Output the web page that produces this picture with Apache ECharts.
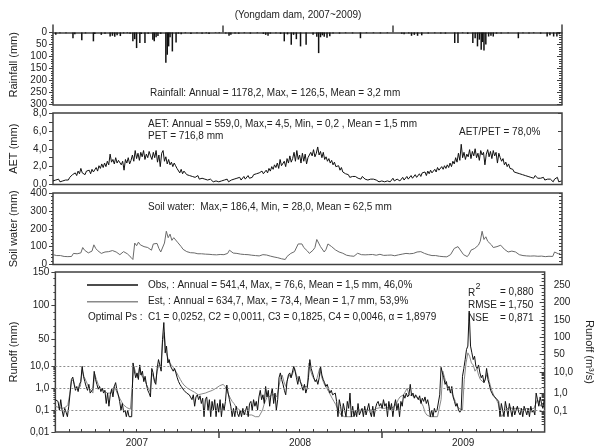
<!DOCTYPE html>
<html><head><meta charset="utf-8">
<script src="https://cdn.jsdelivr.net/npm/echarts@6/dist/echarts.min.js"></script>
<style>html,body{margin:0;padding:0;background:#fff}#c{width:603px;height:448px}</style>
</head><body><div id="c"></div>
<script>
// ---------------- data ----------------
const yearLabels = ['2007', '2008', '2009'];
// daily rainfall events (day index from 2007-01-01, mm)
const rainDay = [6,15,28,43,47,62,70,87,90,104,112,123,128,133,138,145,152,160,166,172,176,180,187,190,198,205,215,218,222,226,232,243,246,249,252,257,265,270,276,285,297,310,321,330,336,350,358,
 372,379,383,392,400,412,425,440,453,458,463,468,480,490,498,505,513,518,524,533,545,560,568,572,576,580,584,590,596,603,617,630,645,662,675,690,705,720,
 751,756,766,772,778,785,794,808,822,835,845,865,872,882,893,904,909,914,918,922,925,928,932,938,943,948,955,965,980,1002,1012,1025,1035,1050,1064,1070,1078,1085,1090];
const rainMm = [10,3,3,24,8,33,4,37,6,10,5,17,14,18,12,15,4,3,5,37,28,65,44,6,44,5,30,37,20,15,6,126.5,93,58,20,79,42,5,8,3,6,3,5,3,6,2,3,
 4,14,10,4,5,3,5,3,6,10,14,5,3,6,37,8,51,10,28,58,51,10,18,86,20,12,18,22,16,4,5,3,4,24,3,3,4,3,
 5,8,4,14,10,14,12,4,3,4,5,44,44,3,6,44,24,58,30,72,40,75,50,17,14,17,5,4,3,24,3,4,3,5,17,12,17,17,8];
// AET (mm/day), one value every 3 days
const aetStep = 3;
const aetMm = [
 0.4,0.3,0.5,0.4,0.6,0.3,0.5,0.4,0.6,0.5, 0.7,0.5,0.8,0.6,1.1,0.9,1.3,1.0,1.5,1.2,
 1.8,1.3,1.4,1.1,1.5,1.3,1.6,1.2,1.7,1.4, 1.6,1.9,1.5,2.1,1.8,2.3,1.9,2.4,2.0,2.6,
 2.2,3.4,2.5,2.8,2.3,3.0,2.4,2.7,2.9,2.2, 2.6,1.6,2.8,2.4,3.0,2.3,2.7,3.3,2.6,3.8,
 2.9,3.5,2.7,3.6,3.1,3.8,2.8,3.4,3.0,3.7, 3.2,2.8,3.6,3.0,3.8,2.5,3.3,2.0,3.5,3.8,
 2.6,3.1,2.3,2.8,2.2,2.5,2.0,2.4,2.1,1.8, 1.6,1.3,1.7,1.2,1.5,1.4,1.1,1.3,1.0,1.2,
 0.9,1.1,0.8,0.7,1.0,0.6,0.8,0.7,0.5,0.6, 0.4,0.5,0.3,0.6,0.4,0.3,0.5,0.4,0.6,0.3,
 0.5,0.4,0.3,0.5,0.4,0.6,0.3,0.4,0.5,0.4, 0.6,0.5,0.7,0.6,0.8,0.5,0.7,0.9,0.6,0.8,
 1.0,0.7,0.9,0.8,1.1,0.9,1.2,1.0,1.3,1.1, 1.5,1.2,1.4,1.6,1.3,1.8,1.5,2.0,1.7,2.2,
 1.9,2.4,1.8,2.8,2.1,2.3,2.6,2.0,2.9,2.4, 3.2,2.5,2.9,3.6,2.6,3.8,2.8,3.3,2.4,3.5,
 2.6,3.4,2.3,3.0,2.8,3.6,3.2,3.9,3.1,3.5, 4.2,3.3,3.7,3.0,3.6,2.8,3.1,2.6,2.9,2.4,
 2.7,2.2,2.5,2.0,1.8,2.1,1.6,1.9,1.4,1.5, 1.2,1.0,1.1,0.8,1.0,0.9,0.7,0.9,0.8,0.7,
 0.8,0.6,0.9,0.7,0.6,0.8,0.5,0.7,0.6,0.5, 0.6,0.4,0.5,0.7,0.3,0.5,0.4,0.6,0.3,0.5,
 0.4,0.6,0.3,0.5,0.7,0.4,0.3,0.6,0.5,0.4, 0.6,0.8,0.5,0.7,0.9,0.6,0.8,1.0,0.7,0.9,
 1.1,0.8,1.0,1.2,0.9,1.3,1.1,1.4,1.0,1.5, 1.2,1.6,1.3,1.5,1.7,1.4,1.9,1.6,1.8,2.0,
 1.7,2.1,1.8,2.2,1.9,2.4,2.0,2.6,2.3,3.0, 2.5,3.5,2.7,4.5,3.0,3.6,2.8,3.4,3.1,3.9,
 2.9,3.7,3.2,4.0,3.0,3.5,2.7,3.8,3.3,3.6, 2.2,3.4,3.9,3.1,3.7,2.9,3.8,3.2,3.6,2.4,
 3.5,3.0,2.6,2.9,2.2,2.5,2.0,2.3,1.8,1.6, 1.7,1.4,1.6,1.3,1.5,1.2,1.4,1.1,1.3,1.0,
 1.1,0.9,1.0,0.8,0.9,0.7,1.0,0.8,0.7,0.9, 0.7,0.6,0.8,0.5,0.7,0.6,0.4,0.6,0.5,0.3,
 0.6,0.4,0.8,0.3,0.5,0.4];
// soil water (mm), one value every 4 days
const soilStep = 4;
const soilMm = [
 55,52,50,48,50,47,45,48,44,46, 45,62,72,60,58,65,95,80,70,65,
 60,75,110,90,78,68,62,60,70,75, 72,80,78,82,70,62,55,58,72,66,
 60,55,40,28,120,105,125,110,115,100, 108,95,85,80,115,110,118,90,70,80,
 120,186,150,170,135,150,160,125,115,100, 85,78,72,70,66,64,65,62,60,62,
 60,62,58,60,57,58,55,56,54,55, 56,54,55,58,62,80,70,64,60,62,
 60,58,59,56,57,55,54,52,53,50, 51,48,50,55,56,53,50,47,44,42,
 40,38,35,32,30,28,45,55,62,70, 72,68,115,110,115,95,90,75,62,70,
 80,95,140,120,100,90,70,85,115,105, 100,90,82,75,70,65,63,55,52,50,
 48,47,46,45,63,58,55,56,54,57, 55,53,56,54,52,55,57,53,51,54,
 52,50,53,51,49,52,54,56,58,60, 62,58,60,64,62,66,70,68,72,65,
 62,58,55,52,50,48,50,47,46,45, 44,45,43,48,55,62,90,85,100,92,
 70,55,45,44,58,80,75,90,85,108, 130,186,140,155,130,125,110,95,90,100,
 98,108,100,85,75,70,68,75,80,70, 62,55,52,50,50,48,49,47,46,48,
 47,46,45,47,46,44,45,46,44,45, 70,66,60,63];
// observed runoff (mm/day), one value every 3 days
const obsStep = 3;
const obsMm = [
 0.3,0.35,0.25,0.1,0.3,0.1,0.05,0.12,0.08,0.05, 0.15,0.6,2.5,3.2,1.5,0.8,1.2,0.7,1.5,2.0,
 10,3.5,2.0,1.2,0.8,1.5,0.6,0.5,0.9,5.9, 2.5,1.5,0.9,1.2,0.7,1.0,0.6,0.8,0.2,0.6,
 0.15,0.5,0.9,0.4,1.2,1.8,0.8,0.5,0.25,0.1, 0.2,0.08,0.1,0.05,0.1,0.05,0.05,0.05,15,6,
 3.0,5,2.5,12,4,6,2.0,3.5,1.5,0.8, 0.6,0.4,8,5,2.0,1.5,8,20,12,6,
 50,75,30,40,15,20,10,12,6,8, 5,3,2.0,1.5,1.2,1.0,0.8,0.9,0.6,0.7,
 0.5,0.6,0.3,0.5,0.15,0.4,0.5,0.3,0.45,0.2, 0.35,0.05,0.3,0.4,0.1,0.3,0.05,0.25,0.1,0.3,
 0.05,0.2,0.08,0.3,0.05,0.2,0.1,0.25,1.4,0.6, 0.3,0.15,0.05,0.12,0.05,0.15,0.07,0.05,0.1,0.05,
 0.12,0.06,0.05,0.15,0.05,0.2,0.25,0.1,0.3,0.15, 0.25,0.1,0.4,0.8,0.3,0.5,0.2,1.2,0.4,0.8,
 0.15,0.5,1.0,0.2,0.6,0.1,0.3,3,5,2.5, 1.5,0.8,0.5,2.0,4,5,3,2.5,10,6,
 3,1.5,3.5,2.0,1.2,0.8,1.5,0.6,1.0,3, 20,8,5,3,2.0,2.5,1.5,3,10,4,
 2.5,1.8,1.2,1.5,0.9,0.6,0.8,0.5,0.45,0.6, 0.25,0.05,0.3,0.15,0.05,0.2,0.1,0.05,0.25,0.12,
 0.6,0.05,0.15,0.05,0.1,0.05,0.2,0.06,0.05,0.12, 0.05,0.15,0.06,0.05,0.2,0.08,0.05,0.15,0.05,0.12,
 0.2,0.25,0.15,0.2,0.12,0.3,0.15,0.2,0.05,0.25, 0.1,0.2,0.05,0.15,0.3,0.1,0.2,0.05,0.25,0.15,
 0.5,0.35,0.6,0.4,0.5,1.5,0.45,0.6,0.35,0.5, 0.4,0.3,0.45,0.2,0.35,0.25,0.4,0.2,0.3,0.15,
 0.05,0.1,0.05,0.12,0.08,0.1,0.1,0.5,9,5, 3,1.5,2.0,0.8,1.2,0.6,1.2,0.4,0.25,0.15,
 0.2,0.1,0.08,0.1,3.5,8,20,35,40,92, 40,30,20,25,10,8,12,5,3,4,
 1.8,2.5,8,2.5,1.5,0.8,0.6,0.45,0.5,0.35, 0.4,0.25,0.05,0.2,0.1,0.05,0.25,0.12,0.05,0.2,
 0.1,0.05,0.15,0.06,0.1,0.15,0.08,0.06,0.12,0.05, 0.15,0.1,0.06,0.12,0.05,0.15,0.08,0.1,0.06,0.6,
 0.3,0.15,0.4,0.2,0.12,0.3];
// estimated runoff (mm/day), one value every 4 days
const estStep = 4;
const estMm = [
 0.15,0.14,0.13,0.12,0.12,0.13,0.14,0.18,0.5,2.0, 2.5,1.2,0.9,0.8,1.2,7,3.5,3,1.5,1.0,
 0.8,0.6,4.5,2.5,1.5,1.0,0.9,0.8,0.7,0.6, 0.5,0.6,0.8,1.2,0.8,0.5,0.35,0.25,0.18,0.15,
 0.13,0.12,0.11,0.1,10,5,3,8,4,4.5, 2.5,1.5,1.0,0.7,5,3,1.8,6,12,8,
 45,60,30,30,15,15,9,8,5,3.5, 2.5,1.8,1.4,1.2,1.0,0.9,0.8,0.7,0.65,0.6,
 0.5,0.5,0.55,0.6,0.6,0.65,0.7,0.75,0.8,0.9, 1.0,1.1,1.3,1.4,1.5,1.2,0.8,0.5,0.35,0.25,
 0.2,0.15,0.12,0.1,0.09,0.08,0.07,0.07,0.06,0.06, 0.06,0.05,0.05,0.05,0.05,0.06,0.1,0.2,0.3,0.5,
 0.4,0.5,0.6,0.5,0.4,0.35,2.5,4,2.0,1.2, 2.5,4,3,2.5,8,4,2.5,2.0,1.5,1.2,
 1.0,1.2,15,6,3.5,2.5,2.0,2.0,8,3.5, 2.0,1.3,1.0,0.7,0.5,0.35,0.25,0.18,0.12,0.08,
 0.06,0.05,0.05,0.05,0.05,0.05,0.05,0.05,0.06,0.08, 0.1,0.1,0.1,0.11,0.1,0.1,0.1,0.11,0.1,0.1,
 0.12,0.12,0.13,0.12,0.12,0.12,0.13,0.12,0.12,0.13, 0.15,0.2,0.3,0.4,0.45,0.5,0.5,1.0,0.5,0.45,
 0.45,0.4,0.4,0.35,0.3,0.25,0.15,0.08,0.06,0.05, 0.05,0.05,0.05,0.05,0.05,0.06,0.3,6,3,1.5,
 1.2,0.8,0.6,0.4,0.25,0.15,0.12,0.1,0.1,2.5, 15,30,25,15,12,6,8,4,2.5,2.5,
 1.8,1.5,5,2.0,1.0,0.6,0.4,0.3,0.2,0.08, 0.05,0.07,0.1,0.12,0.13,0.12,0.12,0.13,0.12,0.11,
 0.12,0.11,0.1,0.11,0.12,0.1,0.11,0.1,0.12,0.13, 0.3,0.2,0.15,0.2];
// tick labels
const rainTicks = [0, 50, 100, 150, 200, 250, 300];
const aetTicks = [0, 2, 4, 6, 8];
const aetTickLabels = ['0,0', '2,0', '4,0', '6,0', '8,0'];
const soilTicks = [0, 100, 200, 300, 400];
const runoffTicks = [0.01, 0.1, 1, 10, 50, 100, 150];
const runoffTickLabels = ['0,01', '0,1', '1,0', '10,0', '50', '100', '150'];
const flowTicks = [0.1, 1, 10, 50, 100, 150, 200, 250];
const flowTickLabels = ['0,1', '1,0', '10,0', '50', '100', '150', '200', '250'];
const refLevels = [0.1, 1, 10];

// ---------------- scales ----------------
const DAY0 = Date.UTC(2007, 0, 1);
const dayOf = (y, m, d) => (Date.UTC(y, m, d) - DAY0) / 864e5;
const yearStarts = [2007, 2008, 2009, 2010].map(y => dayOf(y, 0, 1));
const DMAX = yearStarts[3];
const monthStarts = [];
for (let y = 2007; y <= 2009; y++) for (let m = 0; m < 12; m++) monthStarts.push(dayOf(y, m, 1));
const midYears = [0, 1, 2].map(i => (yearStarts[i] + yearStarts[i + 1]) / 2);

// hybrid runoff scale: log up to 10 mm, linear above
const LIN = 32.5;
const tr = v => v <= 10 ? Math.log10(v) : 1 + (v - 10) / LIN;
const R_MIN = tr(0.01), R_MAX = tr(150);
// right-hand (m3/s) axis anchor positions on the same scale
const flowPos = [-1.073, -0.232, 0.727, 1.550, 2.308, 3.116, 3.907, 4.715];
function flowT(q) {
  const lq = Math.log10(q);
  if (q <= 1) return flowPos[0] + (lq + 1) * (flowPos[1] - flowPos[0]);
  if (q <= 10) return flowPos[1] + lq * (flowPos[2] - flowPos[1]);
  for (let i = 2; i < flowTicks.length - 1; i++) {
    if (q <= flowTicks[i + 1]) return flowPos[i] + (q - flowTicks[i]) / (flowTicks[i + 1] - flowTicks[i]) * (flowPos[i + 1] - flowPos[i]);
  }
  const n = flowTicks.length - 1;
  return flowPos[n] + (q - flowTicks[n]) / 50 * (flowPos[n] - flowPos[n - 1]);
}
const range = (a, b, s) => { const r = []; for (let v = a; v <= b + 1e-9; v += s) r.push(+v.toFixed(6)); return r; };
const nearestLabel = (vals, labels) => v => { let bi = 0, bd = Infinity; vals.forEach((x, i) => { const d = Math.abs(x - v); if (d < bd) { bd = d; bi = i; } }); return bd < 1e-3 ? labels[bi] : ''; };

const runoffMinor = [];
[0.01, 0.1, 1].forEach(d => { for (let k = 2; k <= 9; k++) runoffMinor.push(tr(k * d)); });
[20, 30, 40, 60, 70, 80, 90, 110, 120, 130, 140].forEach(v => runoffMinor.push(tr(v)));
const flowMinor = [];
[0.01, 0.1, 1].forEach(d => { for (let k = 2; k <= 9; k++) { const t = flowT(k * d); if (t > R_MIN) flowMinor.push(t); } });
for (let q = 20; q <= 290; q += 10) { if (q % 50) { const t = flowT(q); if (t < R_MAX) flowMinor.push(t); } }

// ---------------- chart ----------------
const AX = '#404040';
const TXT = '#222';
const FONT = 'Liberation Sans, Arial, Helvetica, sans-serif';
const lab = (extra) => Object.assign({ show: true, fontSize: 10, color: TXT, fontFamily: FONT, margin: 6 }, extra || {});
const nameStyle = { fontSize: 11, color: TXT, fontFamily: FONT };
function yAx(grid, pos, min, max, tickVals, len, extra) {
  return Object.assign({
    type: 'value', gridIndex: grid, position: pos, min: min, max: max,
    axisLine: { show: false, onZero: false },
    axisTick: { show: true, customValues: tickVals, length: len, inside: pos === 'right', lineStyle: { color: AX, width: 1 } },
    axisLabel: { show: false },
    splitLine: { show: false }
  }, extra || {});
}
const xBase = { type: 'value', min: 0, max: DMAX, splitLine: { show: false } };
const lineAx = { show: true, onZero: false, lineStyle: { color: AX, width: 1.5 } };

const yAxes = [
  // 0-3 rainfall
  yAx(0, 'left', -31, 300, rainTicks, 4, { inverse: true, axisLine: lineAx,
    axisLabel: lab({ customValues: rainTicks }),
    name: 'Rainfall (mm)', nameLocation: 'middle', nameGap: 34, nameTextStyle: nameStyle }),
  yAx(0, 'left', -31, 300, range(0, 300, 10), 2, { inverse: true }),
  yAx(0, 'right', -31, 300, range(0, 300, 10), 3, { inverse: true, axisLine: lineAx }),
  yAx(0, 'right', -31, 300, rainTicks, 5, { inverse: true }),
  // 4-5 AET
  yAx(1, 'left', 0, 8, range(0, 8, 1), 4, {
    axisLabel: lab({ customValues: aetTicks, formatter: nearestLabel(aetTicks, aetTickLabels) }),
    name: 'AET (mm)', nameLocation: 'middle', nameGap: 34, nameTextStyle: nameStyle }),
  yAx(1, 'right', 0, 8, range(0, 8, 2), 4),
  // 6-8 soil water
  yAx(2, 'left', 0, 400, soilTicks, 4, {
    axisLabel: lab({ customValues: soilTicks }),
    name: 'Soil water (mm)', nameLocation: 'middle', nameGap: 34, nameTextStyle: nameStyle }),
  yAx(2, 'left', 0, 400, range(0, 400, 20), 2),
  yAx(2, 'right', 0, 400, range(0, 400, 20), 3),
  // 9-12 runoff
  yAx(3, 'left', R_MIN, R_MAX, runoffTicks.map(tr), 4, {
    axisLabel: lab({ customValues: runoffTicks.map(tr), formatter: nearestLabel(runoffTicks.map(tr), runoffTickLabels) }),
    name: 'Runoff (mm)', nameLocation: 'middle', nameGap: 34, nameTextStyle: nameStyle }),
  yAx(3, 'left', R_MIN, R_MAX, runoffMinor, 2),
  yAx(3, 'right', R_MIN, R_MAX, flowPos, 5, {
    axisLabel: lab({ customValues: flowPos, formatter: nearestLabel(flowPos, flowTickLabels), margin: 9 }),
    name: 'Runoff (m³/s)', nameLocation: 'middle', nameGap: 36, nameRotate: -90, nameTextStyle: nameStyle }),
  yAx(3, 'right', R_MIN, R_MAX, flowMinor, 3)
];

const xAxes = [
  Object.assign({}, xBase, { gridIndex: 0, position: 'bottom', axisLine: lineAx, axisTick: { show: false }, axisLabel: { show: false } }),
  Object.assign({}, xBase, { gridIndex: 0, position: 'top', axisLine: { show: true, onZero: true, onZeroAxisIndex: 0, lineStyle: { color: AX, width: 1.5 } },
    axisTick: { show: true, customValues: [yearStarts[1], yearStarts[2]], length: 7, lineStyle: { color: AX, width: 1.5 } }, axisLabel: { show: false } }),
  Object.assign({}, xBase, { gridIndex: 1, show: false }),
  Object.assign({}, xBase, { gridIndex: 2, show: false }),
  Object.assign({}, xBase, { gridIndex: 3, position: 'bottom', axisLine: { show: false, onZero: false },
    axisTick: { show: true, customValues: monthStarts, length: 3, inside: true, lineStyle: { color: AX, width: 1 } },
    axisLabel: lab({ customValues: midYears, formatter: nearestLabel(midYears, yearLabels), margin: 6 }) }),
  Object.assign({}, xBase, { gridIndex: 3, position: 'bottom', axisLine: { show: false, onZero: false },
    axisTick: { show: true, customValues: [yearStarts[1], yearStarts[2]], length: 6, lineStyle: { color: AX, width: 1.5 } }, axisLabel: { show: false } })
];

const gridBox = { left: 47, right: 41, show: true, borderColor: AX, borderWidth: 1.5, backgroundColor: 'transparent' };
const obsName = 'Obs, : Annual = 541,4, Max, = 76,6, Mean = 1,5 mm, 46,0%';
const estName = 'Est, : Annual = 634,7, Max, = 73,4, Mean = 1,7 mm, 53,9%';

function txt(x, y, text, extra) {
  return { type: 'text', x: x, y: y, silent: true,
    style: Object.assign({ text: text, fill: TXT, fontSize: 10, fontFamily: FONT, textVerticalAlign: 'middle', verticalAlign: 'middle' }, extra || {}) };
}

const option = {
  animation: false,
  backgroundColor: '#fff',
  grid: [
    { left: 47, right: 41, top: 25, height: 79.5, show: false },
    Object.assign({ top: 113, height: 71.5 }, gridBox),
    Object.assign({ top: 193, height: 71.5 }, gridBox),
    Object.assign({ top: 272, height: 160 }, gridBox)
  ],
  xAxis: xAxes,
  yAxis: yAxes,
  legend: {
    left: 87, top: 279, orient: 'vertical', padding: 0, itemWidth: 51, itemHeight: 1.5, icon: 'rect',
    itemGap: 4.7, selectedMode: false,
    textStyle: { fontSize: 10, color: TXT, fontFamily: FONT, lineHeight: 12, padding: [0, 0, 0, 5] },
    data: [obsName, estName]
  },
  series: [
    { type: 'bar', name: 'Rainfall', xAxisIndex: 0, yAxisIndex: 0, barWidth: 1.5, itemStyle: { color: '#111' },
      data: rainDay.map((d, i) => [d, rainMm[i]]) },
    { type: 'line', name: 'AET', xAxisIndex: 2, yAxisIndex: 4, symbol: 'none', lineStyle: { color: '#111', width: 1 },
      data: aetMm.map((v, i) => [i * aetStep, v]) },
    { type: 'line', name: 'Soil water', xAxisIndex: 3, yAxisIndex: 6, symbol: 'none', lineStyle: { color: '#6a6a6a', width: 1 },
      data: soilMm.map((v, i) => [i * soilStep, v]) },
    { type: 'line', name: obsName, xAxisIndex: 4, yAxisIndex: 9, symbol: 'none', z: 4,
      itemStyle: { color: '#111' }, lineStyle: { color: '#111', width: 1 },
      data: obsMm.map((v, i) => [i * obsStep, tr(v)]) },
    { type: 'line', name: estName, xAxisIndex: 4, yAxisIndex: 9, symbol: 'none', z: 3,
      itemStyle: { color: '#8a8a8a' }, lineStyle: { color: '#8a8a8a', width: 1 },
      data: estMm.map((v, i) => [i * estStep, tr(v)]),
      markLine: { silent: true, symbol: ['none', 'none'], label: { show: false },
        lineStyle: { color: '#8c8c8c', type: [2, 2], width: 1 },
        data: refLevels.map(v => ({ yAxis: tr(v) })) } }
  ],
  graphic: [
    txt(298, 15, '(Yongdam dam, 2007~2009)', { textAlign: 'center', align: 'center' }),
    txt(150, 93, 'Rainfall: Annual = 1178,2, Max, = 126,5, Mean = 3,2 mm'),
    txt(148, 124, 'AET: Annual = 559,0, Max,= 4,5, Min, = 0,2 , Mean = 1,5 mm'),
    txt(148, 136, 'PET = 716,8 mm'),
    txt(459, 132, 'AET/PET = 78,0%'),
    txt(148, 207, 'Soil water:  Max,= 186,4, Min, = 28,0, Mean = 62,5 mm'),
    txt(88, 317, 'Optimal Ps :'),
    txt(148, 317, 'C1 = 0,0252, C2 = 0,0011, C3 = 0,1825, C4 = 0,0046, α = 1,8979'),
    txt(468, 293, 'R'),
    txt(475.5, 287, '2', { fontSize: 9 }),
    txt(500, 292, '= 0,880'),
    txt(468, 305, 'RMSE = 1,750'),
    txt(468, 318, 'NSE'),
    txt(500, 318, '= 0,871')
  ]
};
const chart = echarts.init(document.getElementById('c'), null, { renderer: 'canvas' });
chart.setOption(option);
</script>
</body></html>
